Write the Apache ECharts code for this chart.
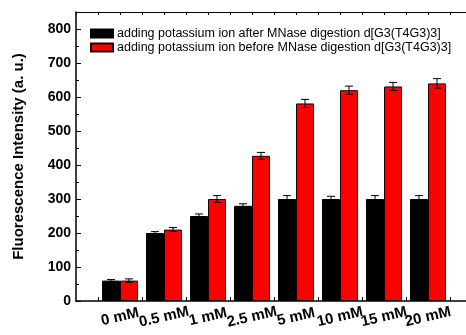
<!DOCTYPE html>
<html>
<head>
<meta charset="utf-8">
<script src="https://cdn.jsdelivr.net/npm/echarts@6/dist/echarts.min.js"></script>
<style>html,body{margin:0;padding:0;background:#fff}#c{width:466px;height:335px}</style>
</head>
<body>
<div id="c"></div>
<script>
const categories = ['0 mM', '0.5 mM', '1 mM', '2.5 mM', '5 mM', '10 mM', '15 mM', '20 mM'];
const afterValues = [60, 200, 250, 280, 300, 300, 300, 300];
const afterErrors = [3, 4, 6, 6, 10, 8, 10, 10];
const beforeValues = [60, 210, 300, 427, 581, 620, 631, 640];
const beforeErrors = [5, 6, 10, 10, 12, 12, 12, 14];
const seriesNames = ['adding potassium ion after MNase digestion d[G3(T4G3)3]',
                     'adding potassium ion before MNase digestion d[G3(T4G3)3]'];
const yTicks = [0, 100, 200, 300, 400, 500, 600, 700, 800];

const positions = categories.map((c, i) => i + 1);
// half-step slots for the bottom category axis: even slots = group centres, odd = group bounds
const slots = [];
for (let k = 0; k <= 18; k++) {
  slots.push(k % 2 === 0 && k >= 2 && k <= 16 ? categories[k / 2 - 1] : '');
}
const FONT = '"Liberation Sans", Arial, sans-serif';
const GRID = { left: 76, right: -6, top: 12, bottom: 34, containLabel: false, outerBoundsMode: 'none' };

function errSeries(vals, errs, side) {
  return {
    type: 'custom',
    silent: true,
    z: 10,
    xAxisIndex: 1,
    data: vals.map((v, i) => [positions[i], v, errs[i]]),
    encode: { x: 0, y: 1 },
    renderItem: function (params, api) {
      const x = api.value(0), v = api.value(1), e = api.value(2);
      const unit = api.size([1, 0])[0];
      const off = side * unit * 9 / 44;
      const p1 = api.coord([x, v + e]);
      const p2 = api.coord([x, v - e]);
      const cx = p1[0] + off;
      const hw = 4;
      const st = { stroke: '#000', lineWidth: 1 };
      return {
        type: 'group',
        children: [
          { type: 'line', shape: { x1: cx, y1: p1[1], x2: cx, y2: p2[1] }, style: st },
          { type: 'line', shape: { x1: cx - hw, y1: p1[1], x2: cx + hw, y2: p1[1] }, style: st },
          { type: 'line', shape: { x1: cx - hw, y1: p2[1], x2: cx + hw, y2: p2[1] }, style: st }
        ]
      };
    }
  };
}

function labelStyle(parity) {
  return {
    interval: function (i) { return slots[i] !== '' && (i / 2) % 2 === parity; },
    showMinLabel: true,
    showMaxLabel: true,
    hideOverlap: false,
    rotate: 13,
    align: 'center',
    verticalAlign: 'middle',
    margin: 16,
    fontFamily: FONT,
    fontWeight: 'bold',
    fontSize: 15,
    color: '#000'
  };
}

const chart = echarts.init(document.getElementById('c'), null, { renderer: 'canvas' });
chart.setOption({
  animation: false,
  backgroundColor: '#fff',
  grid: [GRID, Object.assign({}, GRID)],
  legend: {
    orient: 'vertical',
    left: 85,
    top: 22,
    itemWidth: 22,
    itemHeight: 8,
    itemGap: 1,
    icon: 'rect',
    textStyle: { fontFamily: FONT, fontSize: 12.5, color: '#000', padding: [0, 0, 0, -1] },
    data: seriesNames
  },
  xAxis: [{
    type: 'category',
    gridIndex: 0,
    data: slots,
    boundaryGap: false,
    position: 'bottom',
    splitLine: { show: false },
    axisLine: { onZero: false, lineStyle: { color: '#000', width: 1.5 } },
    axisTick: {
      inside: true, length: 4,
      interval: function (i) { return i % 2 === 1; },
      lineStyle: { color: '#000' }
    },
    axisLabel: labelStyle(1)
  }, {
    type: 'value',
    gridIndex: 0,
    min: 0,
    max: 9,
    interval: 0.5,
    position: 'top',
    splitLine: { show: false },
    axisLine: { onZero: false, lineStyle: { color: '#000', width: 1 } },
    axisTick: { inside: true, length: 3, lineStyle: { color: '#000' } },
    axisLabel: { show: false }
  }, {
    type: 'category',
    gridIndex: 1,
    data: slots,
    boundaryGap: false,
    position: 'bottom',
    splitLine: { show: false },
    axisLine: { show: false, onZero: false },
    axisTick: { show: false },
    axisLabel: labelStyle(0)
  }],
  yAxis: [{
    type: 'value',
    gridIndex: 0,
    min: 0,
    max: 850,
    interval: 100,
    name: 'Fluorescence Intensity (a. u.)',
    nameLocation: 'middle',
    nameGap: 36,
    nameTextStyle: { fontFamily: FONT, fontWeight: 'bold', fontSize: 15, color: '#000', padding: [0, 0, 14, 0] },
    splitLine: { show: false },
    axisLine: { show: true, onZero: false, lineStyle: { color: '#000', width: 1.5 } },
    axisTick: { inside: true, length: 5, lineStyle: { color: '#000' } },
    minorTick: { show: true, splitNumber: 2, length: 3, lineStyle: { color: '#000' } },
    axisLabel: {
      showMaxLabel: false,
      margin: 5,
      fontFamily: FONT,
      fontWeight: 'bold',
      fontSize: 14,
      color: '#000',
      formatter: function (v) { return yTicks.indexOf(v) >= 0 ? String(v) : ''; }
    }
  }, {
    type: 'value',
    gridIndex: 1,
    min: 0,
    max: 850,
    show: false
  }],
  series: [{
    name: seriesNames[0],
    type: 'bar',
    xAxisIndex: 1,
    barWidth: 18,
    barGap: '0%',
    itemStyle: { color: '#000', borderColor: '#000', borderWidth: 1 },
    data: afterValues.map((v, i) => [positions[i], v])
  }, {
    name: seriesNames[1],
    type: 'bar',
    xAxisIndex: 1,
    barWidth: 18,
    barGap: '0%',
    itemStyle: { color: '#ff0000', borderColor: '#1a0000', borderWidth: 1 },
    data: beforeValues.map((v, i) => [positions[i], v])
  },
  errSeries(afterValues, afterErrors, -1),
  errSeries(beforeValues, beforeErrors, 1)]
});
</script>
</body>
</html>
